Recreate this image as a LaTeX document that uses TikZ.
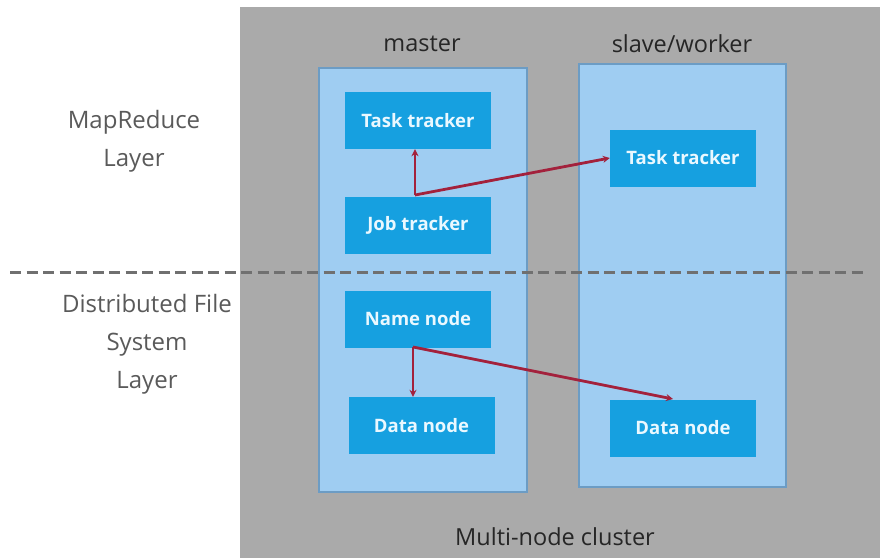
\documentclass[tikz,border=0pt]{standalone}
\usepackage{fontspec}
\setmainfont{Open Sans}
\usetikzlibrary{arrows.meta,calc}
\definecolor{bggray}{HTML}{AAAAAA}
\definecolor{panelblue}{HTML}{9FCDF2}
\definecolor{panelborder}{HTML}{6C9CC4}
\definecolor{boxblue}{HTML}{16A0E0}
\definecolor{boxtext}{HTML}{EAF8FF}
\definecolor{arrowred}{HTML}{A3213C}
\definecolor{dashgray}{HTML}{707070}
\definecolor{labelgray}{HTML}{5A5A5A}
\tikzset{
  panel/.style={fill=panelblue, draw=panelborder, line width=1.2pt},
  compbox/.style={fill=boxblue, draw=none, minimum width=146pt, minimum height=57pt,
    text=boxtext, font=\fontsize{18.5}{20}\selectfont\bfseries, inner sep=0pt},
  link/.style={draw=arrowred, line width=2.8pt, -{Stealth[length=7pt,width=7pt]}},
  sidelabel/.style={text=labelgray, font=\fontsize{24}{38}\selectfont, align=center},
  headlabel/.style={text=black!85, font=\fontsize{23.5}{26}\selectfont}
}
\begin{document}
\begin{tikzpicture}[x=1pt,y=-1pt]
\useasboundingbox (0,0) rectangle (880,558);
\fill[white] (0,0) rectangle (880,558);
% cluster background
\fill[bggray] (240,7) rectangle (880,558);
% panels
\path[panel] (319,68) rectangle (527,492);
\path[panel] (579,64) rectangle (786,487);
% headings
\node[headlabel] (mlab) at (422,44) {master};
\node[headlabel] (slab) at (682,44) {slave/worker};
\node[headlabel] (clab) at (555,537) {Multi-node cluster};
% side labels
\node[sidelabel] (mr) at (134,141) {MapReduce\\Layer};
\node[sidelabel] (dfs) at (147,344) {Distributed File\\System\\Layer};
% layer separator
\draw[dashgray, line width=3pt, dash pattern=on 11pt off 5.5pt] (10,272) -- (868,272);
% boxes
\node[compbox] (tt1) at (418,120.5) {Task tracker};
\node[compbox] (jt) at (418,225) {Job tracker};
\node[compbox] (tt2) at (683,158) {Task tracker};
\node[compbox] (nn) at (418,319) {Name node};
\node[compbox] (dn1) at (421.5,425.5) {Data node};
\node[compbox] (dn2) at (683,428) {Data node};
% connectors
\coordinate (j) at (415,195);
\coordinate (n) at (413,347);
\coordinate (dn2in) at (673,399);
\draw[link] (j) -- (tt1.south -| j);
\draw[link] (j) -- (tt2.west);
\draw[link] (n) -- (dn1.north -| n);
\draw[link] (n) -- (dn2in);
\end{tikzpicture}
\end{document}
